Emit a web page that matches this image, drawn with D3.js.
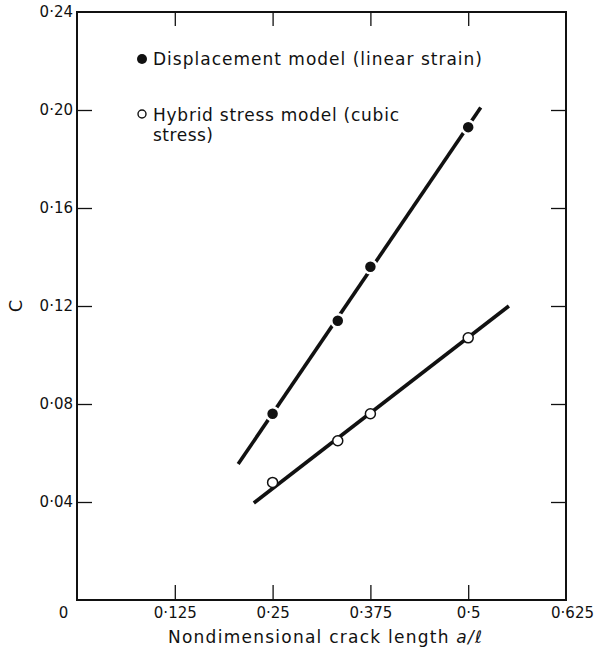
<!DOCTYPE html>
<html>
<head>
<meta charset="utf-8">
<script src="https://cdn.jsdelivr.net/npm/d3@7"></script>
<style>
  body { margin: 0; background: #fff; }
  text { font-family: "DejaVu Sans", sans-serif; fill: #111; }
</style>
</head>
<body>
<div id="chart"></div>
<script>
// tick positions and labels
var xTickVals = [0.125, 0.25, 0.375, 0.5]
var yTickVals = [0.04, 0.08, 0.12, 0.16, 0.2]
var xLabelVals = [0, 0.125, 0.25, 0.375, 0.5, 0.625]
var xLabels = ['0', '0·125', '0·25', '0·375', '0·5', '0·625']
var yLabelVals = [0.04, 0.08, 0.12, 0.16, 0.2, 0.24]
var yLabels = ['0·04', '0·08', '0·12', '0·16', '0·20', '0·24']

// displacement model (linear strain) - filled dots
var dispX = [0.25, 0.3333, 0.375, 0.5]
var dispC = [0.076, 0.114, 0.136, 0.193]
var dispFitX = [0.206, 0.516]
var dispFitC = [0.0555, 0.201]

// hybrid stress model (cubic stress) - open dots
var hybX = [0.25, 0.3333, 0.375, 0.5]
var hybC = [0.048, 0.065, 0.076, 0.107]
var hybFitX = [0.226, 0.552]
var hybFitC = [0.0396, 0.12]

var W = 597, H = 649
var margin = { top: 12, right: 31, bottom: 49, left: 77 }
var w = W - margin.left - margin.right
var h = H - margin.top - margin.bottom

var svg = d3.select('#chart').append('svg')
  .attr('width', W)
  .attr('height', H)

var g = svg.append('g')
  .attr('transform', 'translate(' + margin.left + ',' + margin.top + ')')

var x = d3.scaleLinear().domain([0, 0.625]).range([0, w])
var y = d3.scaleLinear().domain([0, 0.24]).range([h, 0])

// inward ticks on all four sides
function ticks(axis, tr) {
  var a = g.append('g').attr('transform', tr).call(axis)
  a.select('.domain').remove()
  a.selectAll('line').attr('stroke', '#111').attr('stroke-width', 1.3)
  return a
}
ticks(d3.axisBottom(x).tickValues(xTickVals).tickSize(-15).tickFormat(''), 'translate(0,' + h + ')')
ticks(d3.axisTop(x).tickValues(xTickVals).tickSize(-14).tickFormat(''), 'translate(0,0)')
ticks(d3.axisLeft(y).tickValues(yTickVals).tickSize(-15).tickFormat(''), 'translate(0,0)')
ticks(d3.axisRight(y).tickValues(yTickVals).tickSize(-15).tickFormat(''), 'translate(' + w + ',0)')

// frame
g.append('rect')
  .attr('x', 0).attr('y', 0)
  .attr('width', w).attr('height', h)
  .attr('fill', 'none')
  .attr('stroke', '#111')
  .attr('stroke-width', 2)

// tick labels
var xl = g.append('g').attr('transform', 'translate(0,' + h + ')')
  .call(d3.axisBottom(x).tickValues(xLabelVals).tickSize(0).tickPadding(7)
    .tickFormat(function(d, i) { return xLabels[i] }))
xl.select('.domain').remove()
xl.selectAll('text')
  .style('font-size', '15px')
  .style('font-family', '"DejaVu Sans", sans-serif')
  .attr('fill', '#111')
  .attr('dx', function(d) { return d === 0 ? -14 : (d === 0.625 ? 6 : 0) })

var yl = g.append('g')
  .call(d3.axisLeft(y).tickValues(yLabelVals).tickSize(0).tickPadding(4)
    .tickFormat(function(d, i) { return yLabels[i] }))
yl.select('.domain').remove()
yl.selectAll('text')
  .style('font-size', '15px')
  .style('font-family', '"DejaVu Sans", sans-serif')
  .attr('fill', '#111')

// fitted lines
var line = d3.line()
  .x(function(d) { return x(d[0]) })
  .y(function(d) { return y(d[1]) })

g.append('path')
  .datum(d3.zip(dispFitX, dispFitC))
  .attr('d', line)
  .attr('fill', 'none')
  .attr('stroke', '#111')
  .attr('stroke-width', 3.6)

g.append('path')
  .datum(d3.zip(hybFitX, hybFitC))
  .attr('d', line)
  .attr('fill', 'none')
  .attr('stroke', '#111')
  .attr('stroke-width', 3.6)

// filled dots with a white halo (gaps in the line)
g.selectAll('.disp')
  .data(d3.zip(dispX, dispC))
  .enter().append('circle')
  .attr('class', 'disp')
  .attr('cx', function(d) { return x(d[0]) })
  .attr('cy', function(d) { return y(d[1]) })
  .attr('r', 6.5)
  .attr('fill', '#111')
  .attr('stroke', '#fff')
  .attr('stroke-width', 2.5)

g.selectAll('.hyb')
  .data(d3.zip(hybX, hybC))
  .enter().append('circle')
  .attr('class', 'hyb')
  .attr('cx', function(d) { return x(d[0]) })
  .attr('cy', function(d) { return y(d[1]) })
  .attr('r', 5)
  .attr('fill', '#fff')
  .attr('stroke', '#111')
  .attr('stroke-width', 1.5)

// legend
svg.append('circle').attr('cx', 142).attr('cy', 59).attr('r', 5).attr('fill', '#111')
svg.append('text').attr('x', 153).attr('y', 65)
  .attr('textLength', 329).attr('lengthAdjust', 'spacing')
  .style('font-size', '17px')
  .text('Displacement model (linear strain)')

svg.append('circle').attr('cx', 142).attr('cy', 114).attr('r', 4)
  .attr('fill', '#fff').attr('stroke', '#111').attr('stroke-width', 1.4)
svg.append('text').attr('x', 153).attr('y', 121)
  .attr('textLength', 246).attr('lengthAdjust', 'spacing')
  .style('font-size', '17px')
  .text('Hybrid stress model (cubic')
svg.append('text').attr('x', 153).attr('y', 141)
  .attr('textLength', 60).attr('lengthAdjust', 'spacing')
  .style('font-size', '17px')
  .text('stress)')

// axis titles
var xt = svg.append('text').attr('x', 168).attr('y', 643)
  .attr('textLength', 314).attr('lengthAdjust', 'spacing')
  .style('font-size', '17px')
xt.append('tspan').text('Nondimensional crack length ')
xt.append('tspan').style('font-style', 'italic').text('a/ℓ')

svg.append('text')
  .attr('transform', 'translate(22,306) rotate(-90)')
  .attr('text-anchor', 'middle')
  .style('font-size', '18px')
  .text('C')
</script>
</body>
</html>
